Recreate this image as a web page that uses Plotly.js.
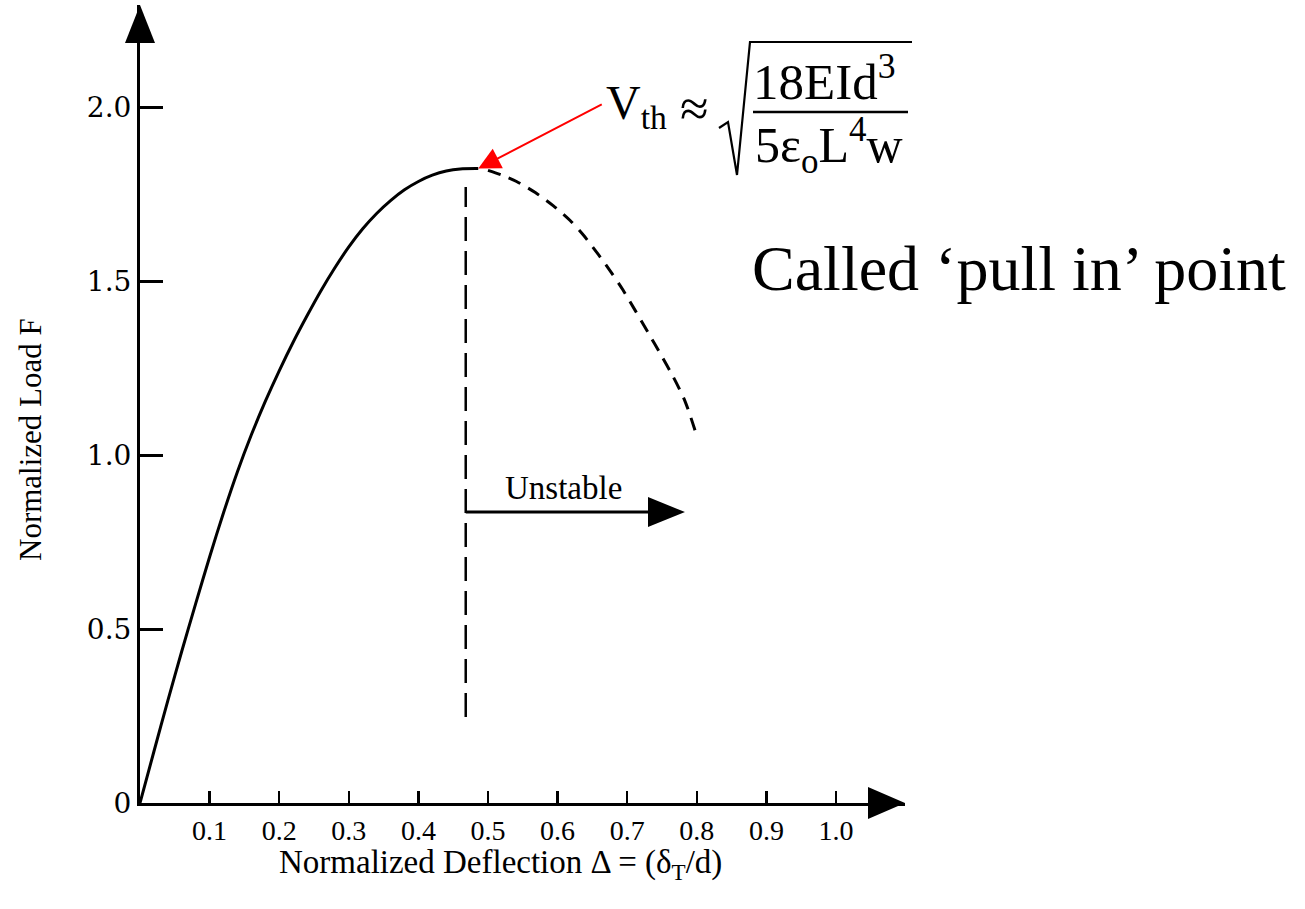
<!DOCTYPE html>
<html><head><meta charset="utf-8">
<script src="https://cdn.plot.ly/plotly-3.0.1.min.js"></script>
<style>html,body{margin:0;padding:0;background:#fff}</style>
</head><body><div id="chart" style="width:1305px;height:909px"></div>
<script>
// ---- data ----
const stableDeflection = [0, 0.02, 0.04, 0.06, 0.08, 0.10, 0.12, 0.14, 0.16, 0.18, 0.20, 0.22, 0.24, 0.26, 0.28, 0.30, 0.32, 0.34, 0.36, 0.38, 0.40, 0.42, 0.44, 0.46, 0.486];
const stableLoad       = [0, 0.148, 0.294, 0.436, 0.573, 0.707, 0.834, 0.952, 1.058, 1.154, 1.242, 1.324, 1.400, 1.472, 1.538, 1.598, 1.650, 1.694, 1.731, 1.762, 1.786, 1.804, 1.816, 1.822, 1.823];
const unstableDeflection = [0.50, 0.52, 0.541, 0.568, 0.594, 0.618, 0.637, 0.659, 0.678, 0.694, 0.711, 0.730, 0.747, 0.766, 0.783, 0.800];
const unstableLoad       = [1.818, 1.804, 1.786, 1.754, 1.716, 1.674, 1.632, 1.575, 1.522, 1.474, 1.417, 1.352, 1.293, 1.225, 1.155, 1.055];
const pullInDeflection = 0.468;
const pullInLineLoad = [0.247, 1.77];
const unstableArrowLoad = 0.836;
const unstableArrowEnd = 0.783;
const unstableLabel = 'Unstable';
const xTickVals = [0.1, 0.2, 0.3, 0.4, 0.5, 0.6, 0.7, 0.8, 0.9, 1.0];
const xTickText = ['0.1', '0.2', '0.3', '0.4', '0.5', '0.6', '0.7', '0.8', '0.9', '1.0'];
const yTickVals = [0, 0.5, 1.0, 1.5, 2.0];
const yTickText = ['0', '0.5', '1.0', '1.5', '2.0'];
const xTitle = 'Normalized Deflection \u0394 = (\u03b4<sub>T</sub>/d)';
const yTitle = 'Normalized Load F';
const noteText = 'Called \u2018pull in\u2019 point';

// ---- layout geometry ----
const W = 1305, H = 909;
const M = {l: 140, r: 400, t: 5, b: 106};
const PW = W - M.l - M.r, PH = H - M.t - M.b;
const xMax = PW / 696, yMax = PH / 348;
const px = x => (x - M.l) / PW;
const py = y => (H - M.b - y) / PH;
const serif = 'Liberation Serif, Times New Roman, serif';
const black = '#000';

const traces = [
  {x: stableDeflection, y: stableLoad, mode: 'lines', line: {color: black, width: 3, shape: 'spline', smoothing: 0.8}, hoverinfo: 'skip'},
  {x: unstableDeflection, y: unstableLoad, mode: 'lines', line: {color: black, width: 3, dash: '13px,9px', shape: 'spline', smoothing: 0.8}, hoverinfo: 'skip'},
  {x: [pullInDeflection, pullInDeflection], y: pullInLineLoad, mode: 'lines', line: {color: black, width: 2.5, dash: '24px,10px'}, hoverinfo: 'skip'},
  {x: [pullInDeflection, unstableArrowEnd - 0.03], y: [unstableArrowLoad, unstableArrowLoad], mode: 'lines', line: {color: black, width: 3}, hoverinfo: 'skip'}
];

const sqrtPath = 'M' + px(719) + ',' + py(128) + ' L' + px(728) + ',' + py(122) +
  ' L' + px(737) + ',' + py(175) + ' L' + px(750) + ',' + py(42) + ' L' + px(912) + ',' + py(42);

const shapes = [
  {type: 'path', xref: 'paper', yref: 'paper', xsizemode: 'pixel', ysizemode: 'pixel', xanchor: 0, yanchor: 1,
   path: 'M-15,-38 L0,0 L15,-38 Z', fillcolor: black, line: {width: 0}},
  {type: 'path', xref: 'paper', yref: 'paper', xsizemode: 'pixel', ysizemode: 'pixel', xanchor: 1, yanchor: 0,
   path: 'M-37,-16 L0,0 L-37,16 Z', fillcolor: black, line: {width: 0}},
  {type: 'path', xref: 'x', yref: 'y', xsizemode: 'pixel', ysizemode: 'pixel', xanchor: unstableArrowEnd, yanchor: unstableArrowLoad,
   path: 'M-37,-15 L0,0 L-37,15 Z', fillcolor: black, line: {width: 0}},
  {type: 'path', xref: 'paper', yref: 'paper', path: sqrtPath, line: {color: black, width: 2.2}},
  {type: 'line', xref: 'paper', yref: 'paper', x0: px(753), x1: px(908), y0: py(112), y1: py(112), line: {color: black, width: 2.5}}
];

const last = stableDeflection.length - 1;
const annotations = [
  {x: stableDeflection[last], y: stableLoad[last], xref: 'x', yref: 'y', text: '', showarrow: true,
   ax: 125, ay: -65, arrowcolor: '#ff0000', arrowwidth: 2, arrowhead: 2, arrowsize: 2.2, standoff: 0},
  {x: 0.608, y: 0.905, xref: 'x', yref: 'y', text: unstableLabel, showarrow: false,
   font: {family: serif, size: 33, color: black}},
  {x: px(30), y: py(440), xref: 'paper', yref: 'paper', xanchor: 'center', yanchor: 'middle', showarrow: false,
   textangle: -90, text: yTitle, font: {family: serif, size: 31, color: black}},
  {x: px(500), y: py(864), xref: 'paper', yref: 'paper', xanchor: 'center', yanchor: 'middle', showarrow: false,
   text: xTitle, font: {family: serif, size: 33, color: black}},
  {x: px(604), y: py(106), xref: 'paper', yref: 'paper', xanchor: 'left', yanchor: 'middle', showarrow: false,
   text: 'V<sub>th</sub>', font: {family: serif, size: 48, color: black}},
  {x: px(694), y: py(108), xref: 'paper', yref: 'paper', xanchor: 'center', yanchor: 'middle', showarrow: false,
   text: '\u2248', font: {family: serif, size: 52, color: black}},
  {x: px(824), y: py(78), xref: 'paper', yref: 'paper', xanchor: 'center', yanchor: 'middle', showarrow: false,
   text: '18EId<sup>3</sup>', font: {family: serif, size: 51, color: black}},
  {x: px(829), y: py(145), xref: 'paper', yref: 'paper', xanchor: 'center', yanchor: 'middle', showarrow: false,
   text: '5\u03b5<sub>o</sub>L<sup>4</sup>w', font: {family: serif, size: 50, color: black}},
  {x: px(750), y: py(268), xref: 'paper', yref: 'paper', xanchor: 'left', yanchor: 'middle', showarrow: false,
   text: noteText, font: {family: serif, size: 64, color: black}}
];

const layout = {
  width: W, height: H, margin: M, showlegend: false,
  paper_bgcolor: '#fff', plot_bgcolor: '#fff',
  xaxis: {range: [0, xMax], showline: true, linewidth: 3, linecolor: black, mirror: false,
    ticks: 'inside', ticklen: 12, tickwidth: 2.5, tickcolor: black,
    tickmode: 'array', tickvals: xTickVals, ticktext: xTickText,
    tickfont: {family: serif, size: 28, color: black},
    showgrid: false, zeroline: false, fixedrange: true},
  yaxis: {range: [0, yMax], showline: true, linewidth: 3, linecolor: black,
    ticks: 'inside', ticklen: 23, tickwidth: 3, tickcolor: black,
    tickmode: 'array', tickvals: yTickVals, ticktext: yTickText,
    tickfont: {family: 'DejaVu Serif, serif', size: 28, color: black},
    showgrid: false, zeroline: false, fixedrange: true},
  shapes: shapes,
  annotations: annotations
};

Plotly.newPlot('chart', traces, layout, {staticPlot: true, displayModeBar: false});
</script>
</body></html>
